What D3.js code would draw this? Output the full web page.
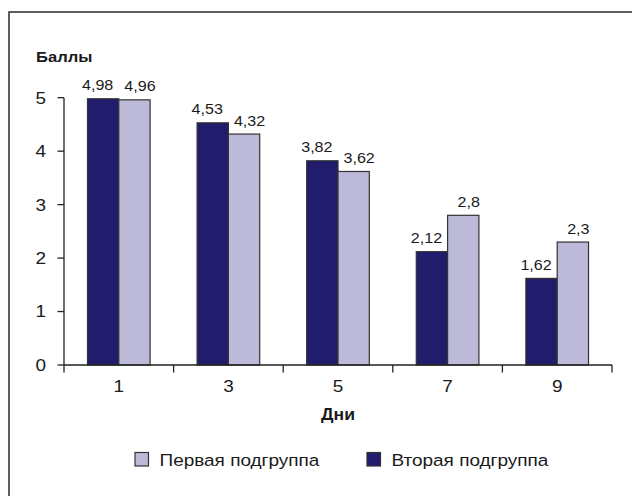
<!DOCTYPE html>
<html>
<head>
<meta charset="utf-8">
<script src="https://cdn.jsdelivr.net/npm/d3@7"></script>
<style>
  html, body { margin: 0; padding: 0; background: #fff; }
  svg { display: block; }
  text { font-family: "Liberation Sans", Arial, sans-serif; fill: #1a1a1a; }
</style>
</head>
<body>
<svg id="chart" width="632" height="496"></svg>
<script>
// Days of observation and mean scores per subgroup
const days = ["1", "3", "5", "7", "9"];
const seriesNames = ["Вторая подгруппа", "Первая подгруппа"];
const secondGroup = [4.98, 4.53, 3.82, 2.12, 1.62];
const firstGroup = [4.96, 4.32, 3.62, 2.8, 2.3];
const yTicks = [0, 1, 2, 3, 4, 5];
const legendOrder = ["Первая подгруппа", "Вторая подгруппа"];

const colors = {
  "Вторая подгруппа": "#221c6c",
  "Первая подгруппа": "#bdb9d8"
};
const valuesBySeries = {
  "Вторая подгруппа": secondGroup,
  "Первая подгруппа": firstGroup
};
const labelShift = { "Вторая подгруппа": -5.5, "Первая подгруппа": 5.5 };

const svg = d3.select("#chart");
const SX = 1.15; // horizontal stretch of the typeface

function label(parent, x, y, str, opts = {}) {
  const g = parent.append("g")
    .attr("transform", `translate(${x},${y}) scale(${opts.sx || SX},1)`);
  g.append("text")
    .attr("text-anchor", opts.anchor || "start")
    .attr("font-size", opts.size || 14)
    .attr("font-weight", opts.weight || "normal")
    .attr("dy", opts.dy || 0)
    .text(str);
  return g;
}

// outer frame (extends past the canvas on right and bottom)
svg.append("rect")
  .attr("x", 9).attr("y", 12)
  .attr("width", 700).attr("height", 600)
  .attr("fill", "none")
  .attr("stroke", "#2a2a2a")
  .attr("stroke-width", 1.5);

const x0 = d3.scaleBand().domain(days).range([64, 612]).padding(0);
const x1 = d3.scaleBand().domain(seriesNames).range([0, x0.bandwidth()])
  .paddingInner(0).paddingOuter(0.75);
const y = d3.scaleLinear().domain([0, 5]).range([365, 97.7]);

const fmt = v => String(v).replace(".", ",");

// bars
const groups = svg.append("g").selectAll("g")
  .data(days)
  .join("g")
  .attr("transform", d => `translate(${x0(d)},0)`);

groups.selectAll("rect")
  .data((d, i) => seriesNames.map(s => ({ s, v: valuesBySeries[s][i] })))
  .join("rect")
  .attr("x", d => x1(d.s))
  .attr("y", d => y(d.v))
  .attr("width", x1.bandwidth())
  .attr("height", d => y(0) - y(d.v))
  .attr("fill", d => colors[d.s])
  .attr("stroke", "#333")
  .attr("stroke-width", 1.2);

// value labels
days.forEach((day, i) => {
  seriesNames.forEach(s => {
    const v = valuesBySeries[s][i];
    label(svg, x0(day) + x1(s) + x1.bandwidth() / 2 + labelShift[s], y(v) - 8.5,
      fmt(v), { anchor: "middle", size: 14 });
  });
});

// y axis
const yAxis = svg.append("g").attr("transform", "translate(64,0)");
yAxis.append("line")
  .attr("x1", 0).attr("x2", 0).attr("y1", y(5)).attr("y2", y(0))
  .attr("stroke", "#222").attr("stroke-width", 1.3);
yTicks.forEach(t => {
  yAxis.append("line")
    .attr("x1", -6.5).attr("x2", 0).attr("y1", y(t)).attr("y2", y(t))
    .attr("stroke", "#222").attr("stroke-width", 1.3);
  label(yAxis, -18, y(t), String(t), { anchor: "end", size: 16.5, dy: "0.36em" });
});

// x axis
const xAxis = svg.append("g");
xAxis.append("line")
  .attr("x1", 64).attr("x2", 612).attr("y1", y(0)).attr("y2", y(0))
  .attr("stroke", "#222").attr("stroke-width", 1.3);
const boundaries = days.map(d => x0(d)).concat([x0(days[days.length - 1]) + x0.bandwidth()]);
boundaries.forEach(bx => {
  xAxis.append("line")
    .attr("x1", bx).attr("x2", bx).attr("y1", y(0)).attr("y2", y(0) + 7.5)
    .attr("stroke", "#222").attr("stroke-width", 1.3);
});
days.forEach(d => {
  label(xAxis, x0(d) + x0.bandwidth() / 2, 392, d, { anchor: "middle", size: 16.5 });
});

// axis titles
label(svg, 36, 62, "Баллы", { size: 15.5, weight: "bold", sx: 1.07 });
label(svg, (64 + 612) / 2, 420, "Дни", { anchor: "middle", size: 16, weight: "bold", sx: 1.1 });

// legend
const legendX = { "Первая подгруппа": 135, "Вторая подгруппа": 367 };
legendOrder.forEach(s => {
  const lx = legendX[s];
  svg.append("rect")
    .attr("x", lx).attr("y", 452.5)
    .attr("width", 13.5).attr("height", 13.5)
    .attr("fill", colors[s])
    .attr("stroke", "#333").attr("stroke-width", 1.2);
  label(svg, lx + 24.5, 465.5, s, { size: 16.5 });
});
</script>
</body>
</html>
